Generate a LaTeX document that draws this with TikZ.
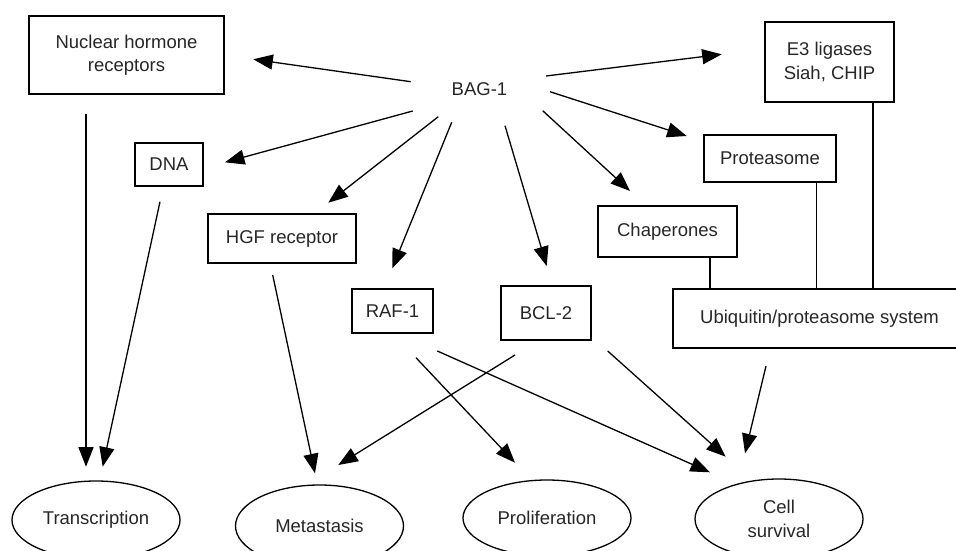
\documentclass[tikz,border=0pt]{standalone}
\usepackage{fontspec}
\setmainfont{Liberation Sans}
\usetikzlibrary{shapes.geometric,arrows.meta}
\begin{document}
\begin{tikzpicture}[x=1pt,y=-1pt,
  font=\fontsize{18.5}{23.5}\selectfont,
  box/.style={draw, line width=1.6pt, inner sep=0pt, align=center, text=black!85},
  thinbox/.style={draw, line width=1.1pt, inner sep=0pt, align=center, text=black!85},
  oval/.style={draw, ellipse, line width=1.3pt, inner sep=0pt, align=center, text=black!85, minimum width=168pt},
  arr/.style={-{Triangle[length=19.5pt,width=15pt]}, line width=1.3pt},
  link/.style={line width=1.6pt}]
\useasboundingbox (0,0) rectangle (956,551);

% nodes
\node[box, minimum width=195pt, minimum height=78pt] (nhr) at (126.5,55) {Nuclear hormone\\receptors};
\node[text=black!85] (bag) at (479.5,89) {BAG-1};
\node[thinbox, minimum width=68pt, minimum height=43pt] (dna) at (169,164.5) {DNA};
\node[box, minimum width=148pt, minimum height=49pt] (hgf) at (282,238.5) {HGF receptor};
\node[box, minimum width=81pt, minimum height=44pt] (raf) at (392.5,311) {RAF-1};
\node[box, minimum width=90pt, minimum height=54pt] (bcl) at (546,313) {BCL-2};
\node[box, minimum width=132pt, minimum height=47pt] (prot) at (770,158.5) {Proteasome};
\node[thinbox, minimum width=139pt, minimum height=51pt] (chap) at (667.5,231.5) {Chaperones};
\node[box, minimum width=293pt, minimum height=59pt] (ups) at (819.5,318.5) {Ubiquitin/proteasome system};
\node[box, minimum width=129pt, minimum height=80pt] (e3) at (829.5,62) {E3 ligases\\Siah, CHIP};

\node[oval, minimum height=78pt] (tr) at (96,520) {Transcription};
\node[oval, minimum height=82pt] (me) at (319.5,526) {Metastasis};
\node[oval, minimum height=76pt] (pr) at (547,518) {Proliferation};
\node[oval, minimum height=80pt] (cs) at (779,519) {Cell\\survival};

% vertical links into the ubiquitin system
\coordinate (xc) at (710,0);
\coordinate (xp) at (816,0);
\coordinate (xe) at (873,0);
\draw[line width=1.4pt] (chap.south -| xc) -- (ups.north -| xc);
\draw[line width=0.9pt] (prot.south -| xp) -- (ups.north -| xp);
\draw[line width=1.8pt] (e3.south -| xe) -- (ups.north -| xe);

% arrow end points
\coordinate (b1) at (410.7,81.7);  \coordinate (n1) at (253.3,59.3);
\coordinate (b2) at (412.7,111);   \coordinate (n2) at (225,162.3);
\coordinate (b3) at (438.3,116.7); \coordinate (n3) at (328.3,202.7);
\coordinate (b4) at (451.7,122.3); \coordinate (n4) at (392.3,268.3);
\coordinate (b5) at (505,125.7);   \coordinate (n5) at (546.7,266);
\coordinate (b6) at (542.7,110.7); \coordinate (n6) at (630,191);
\coordinate (b7) at (550,91.7);    \coordinate (n7) at (686.7,136);
\coordinate (b8) at (546,76);      \coordinate (n8) at (721.7,54.3);

\coordinate (s9) at (86,114);      \coordinate (t9) at (86,466.7);
\coordinate (s10) at (160,201.7);  \coordinate (t10) at (102.7,466.7);
\coordinate (s11) at (272.7,275);  \coordinate (t11) at (315,473.3);
\coordinate (s12) at (515,355);    \coordinate (t12) at (338.3,465);
\coordinate (s13) at (416,357.7);  \coordinate (t13) at (515,462.7);
\coordinate (s14) at (437.3,351);  \coordinate (t14) at (710,472.3);
\coordinate (s15) at (607.7,351);  \coordinate (t15) at (725.7,456.7);
\coordinate (s16) at (766,366);    \coordinate (t16) at (745,453.3);

% arrows from BAG-1
\foreach \i in {1,...,8} \draw[arr] (b\i) -- (n\i);
% arrows to outcomes
\foreach \i in {9,...,16} \draw[arr] (s\i) -- (t\i);
\end{tikzpicture}
\end{document}
